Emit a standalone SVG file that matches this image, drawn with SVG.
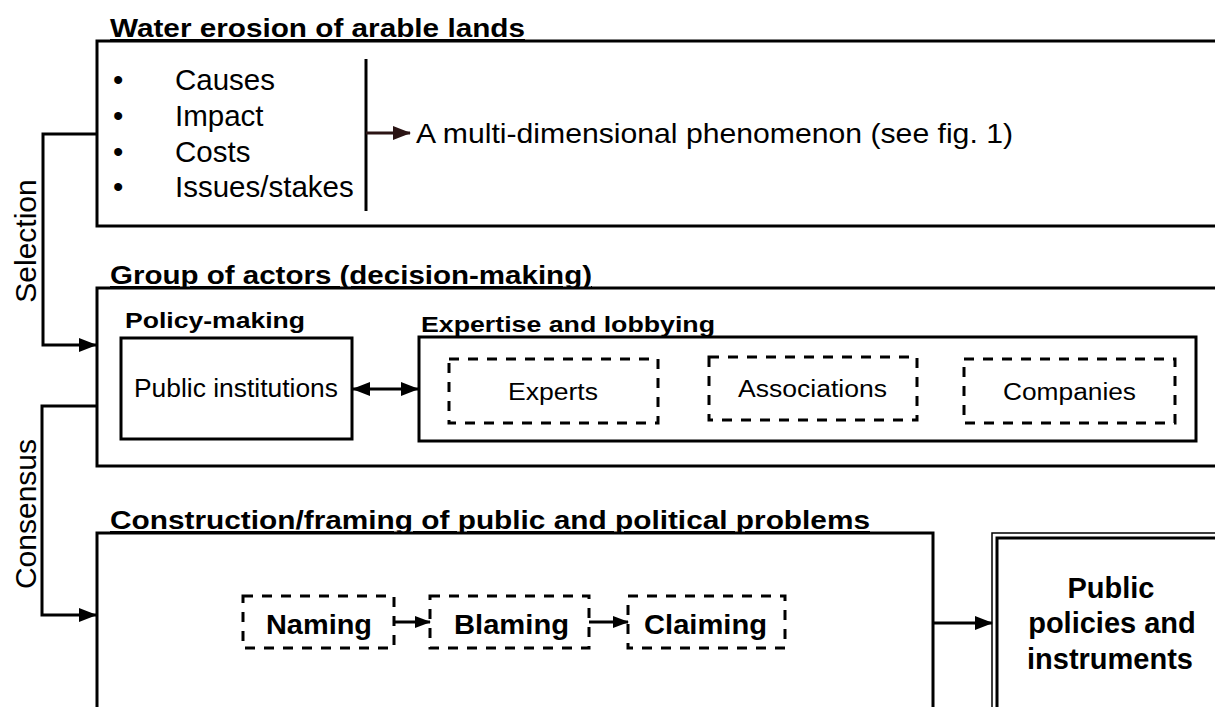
<svg xmlns="http://www.w3.org/2000/svg" width="1215" height="707" viewBox="0 0 1215 707">
<style>
.box{fill:none;stroke:#000;stroke-width:3}
.dash{fill:none;stroke:#000;stroke-width:3;stroke-dasharray:10 9}
.line{fill:none;stroke:#000;stroke-width:3}
.t{font-family:"Liberation Sans",Arial,sans-serif;fill:#000}
.title{font-family:"Liberation Sans",Arial,sans-serif;font-weight:bold;font-size:25px;text-decoration:underline;fill:#000}
.sub{font-family:"Liberation Sans",Arial,sans-serif;font-weight:bold;font-size:22px;fill:#000}
.b{font-family:"Liberation Sans",Arial,sans-serif;font-weight:bold;fill:#000}
</style>
<defs>
<marker id="ah" markerUnits="userSpaceOnUse" markerWidth="18" markerHeight="14" refX="17" refY="7" orient="auto-start-reverse"><path d="M0,0 L18,7 L0,14 z" fill="#000"/></marker>
<marker id="ahb" markerUnits="userSpaceOnUse" markerWidth="18" markerHeight="14" refX="17" refY="7" orient="auto"><path d="M0,0 L18,7 L0,14 z" fill="#2b1414"/></marker>
<marker id="ahs" markerUnits="userSpaceOnUse" markerWidth="16" markerHeight="12" refX="15" refY="6" orient="auto"><path d="M0,0 L16,6 L0,12 z" fill="#000"/></marker>
</defs>

<g id="water-erosion">
<rect class="box" x="97" y="41" width="1130" height="185"/>
<text class="title" x="110" y="37" textLength="415" lengthAdjust="spacingAndGlyphs">Water erosion of arable lands</text>
<g class="t" font-size="29.5">
<text x="113" y="90">•</text><text x="175" y="90">Causes</text>
<text x="113" y="126">•</text><text x="175" y="126">Impact</text>
<text x="113" y="162">•</text><text x="175" y="162">Costs</text>
<text x="113" y="197">•</text><text x="175" y="197">Issues/stakes</text>
</g>
<line class="line" x1="366" y1="59" x2="366" y2="211"/>
<path d="M366,133 H410" fill="none" stroke="#2b1414" stroke-width="3" marker-end="url(#ahb)"/>
<text class="t" x="416" y="143" font-size="28" textLength="597" lengthAdjust="spacingAndGlyphs">A multi-dimensional phenomenon (see fig. 1)</text>
</g>

<g id="group-of-actors">
<rect class="box" x="97" y="288" width="1130" height="178"/>
<text class="title" x="110" y="284" textLength="482" lengthAdjust="spacingAndGlyphs">Group of actors (decision-making)</text>
</g>

<g id="policy-making">
<text class="sub" x="125" y="328" textLength="180" lengthAdjust="spacingAndGlyphs">Policy-making</text>
<rect class="box" x="121" y="338" width="231" height="101"/>
<text class="t" x="134" y="397" font-size="25" textLength="204" lengthAdjust="spacingAndGlyphs">Public institutions</text>
</g>

<g id="expertise">
<text class="sub" x="421" y="332" textLength="294" lengthAdjust="spacingAndGlyphs">Expertise and lobbying</text>
<rect class="box" x="419" y="337" width="777" height="104"/>
</g>
<g id="experts">
<rect class="dash" x="449" y="359" width="209" height="64"/>
<text class="t" x="508" y="400" font-size="23" textLength="90" lengthAdjust="spacingAndGlyphs">Experts</text>
</g>
<g id="associations">
<rect class="dash" x="709" y="357" width="208" height="63"/>
<text class="t" x="738" y="397" font-size="23" textLength="149" lengthAdjust="spacingAndGlyphs">Associations</text>
</g>
<g id="companies">
<rect class="dash" x="964" y="359" width="211" height="64"/>
<text class="t" x="1003" y="400" font-size="23" textLength="133" lengthAdjust="spacingAndGlyphs">Companies</text>
</g>

<g id="construction">
<path class="box" d="M97,720 V533 H933 V720"/>
<text class="title" x="110" y="529" textLength="760" lengthAdjust="spacingAndGlyphs">Construction/framing of public and political problems</text>
</g>
<g id="naming">
<rect class="dash" x="243" y="596" width="151" height="52"/>
<text class="b" x="266" y="634" font-size="28" textLength="106" lengthAdjust="spacingAndGlyphs">Naming</text>
</g>
<g id="blaming">
<rect class="dash" x="430" y="596" width="159" height="52"/>
<text class="b" x="454" y="634" font-size="28" textLength="115" lengthAdjust="spacingAndGlyphs">Blaming</text>
</g>
<g id="claiming">
<rect class="dash" x="628" y="596" width="157" height="52"/>
<text class="b" x="644" y="634" font-size="28" textLength="123" lengthAdjust="spacingAndGlyphs">Claiming</text>
</g>

<g id="public-policies">
<path d="M992,720 V533 H1230" fill="none" stroke="#000" stroke-width="1.5"/>
<path d="M997,720 V538 H1230" fill="none" stroke="#000" stroke-width="3"/>
<g class="b" font-size="29" text-anchor="middle">
<text x="1111" y="598">Public</text>
<text x="1112" y="633">policies and</text>
<text x="1110" y="669">instruments</text>
</g>
</g>

<g id="connectors">
<path class="line" d="M97,134 H43 V345 H96" marker-end="url(#ah)"/>
<path class="line" d="M97,406 H42 V615 H96" marker-end="url(#ah)"/>
<path class="line" d="M353,389 H418" marker-start="url(#ah)" marker-end="url(#ah)"/>
<path class="line" d="M394,622 H430" marker-end="url(#ahs)"/>
<path class="line" d="M589,622 H628" marker-end="url(#ahs)"/>
<path class="line" d="M933,623 H992" marker-end="url(#ah)"/>
<text class="t" font-size="30" text-anchor="middle" transform="translate(36,241) rotate(-90)">Selection</text>
<text class="t" font-size="30" text-anchor="middle" transform="translate(36,514) rotate(-90)">Consensus</text>
</g>
</svg>
